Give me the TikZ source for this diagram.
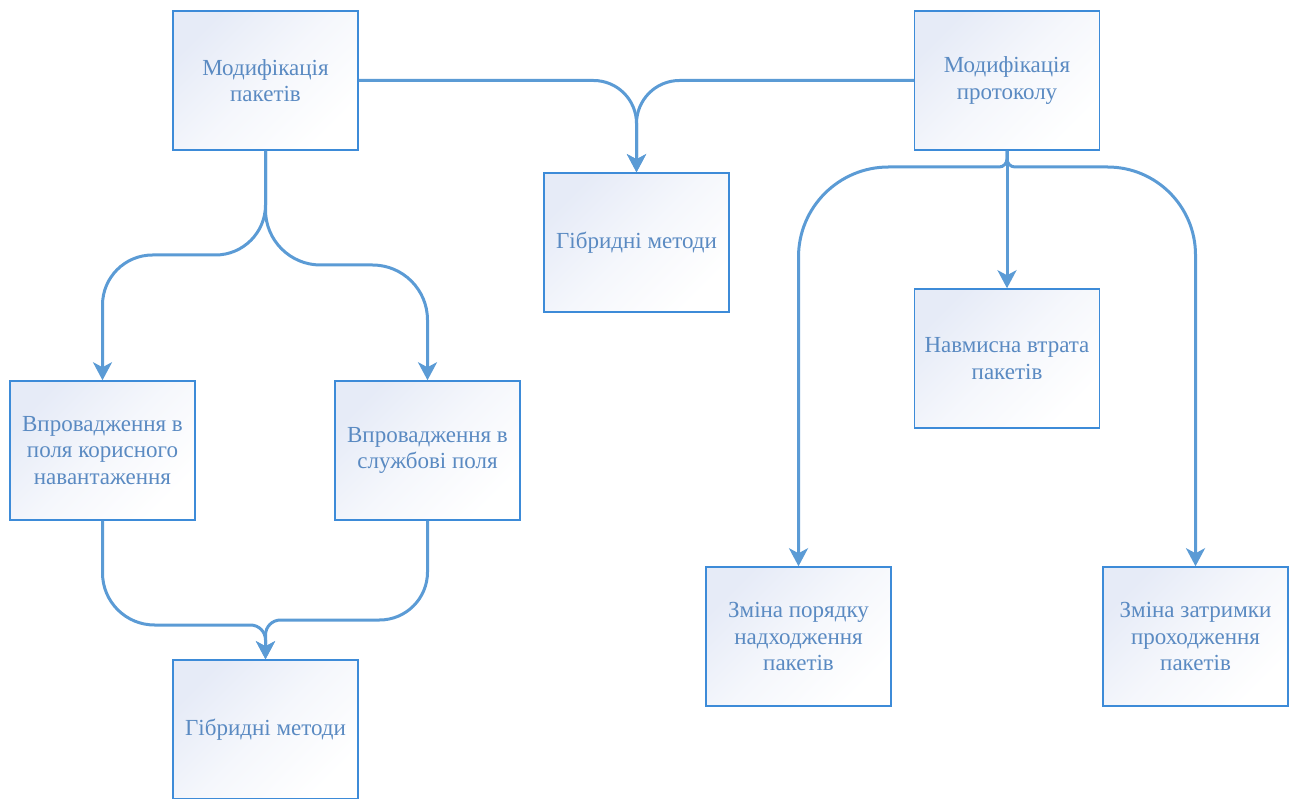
\documentclass[tikz,border=0pt]{standalone}
\usepackage{fontspec}
\setmainfont{Liberation Serif}
\usetikzlibrary{arrows.meta}
\definecolor{boxblue}{HTML}{3D8BD8}
\definecolor{linkblue}{HTML}{5B9BD5}
\definecolor{textblue}{HTML}{5A8AC2}
\definecolor{shadeblue}{HTML}{E6EBF7}

\begin{document}
\begin{tikzpicture}[x=1pt, y=1pt, >=Stealth,
    every node/.style={font=\rmfamily\fontsize{23}{26.5}\selectfont},
    box/.style={rectangle, draw=boxblue, line width=1.5pt, top color=shadeblue, bottom color=white, middle color=white!60!shadeblue, shading angle=45, minimum width=185pt, minimum height=139pt, align=center, text=textblue, inner sep=0pt},
    link/.style={linkblue, line width=3pt, -{Stealth[length=18pt,width=19pt,inset=5pt]}}]
        \useasboundingbox (0,0) rectangle (1289,798);
        \node[box] (mpak) at (265.5,717.5) {Модифікація\\пакетів};
        \node[box] (mprot) at (1007,717.5) {Модифікація\\протоколу};
        \node[box] (hyb1) at (636.5,555.5) {Гібридні методи};
        \node[box] (loss) at (1007,439.5) {Навмисна втрата\\пакетів};
        \node[box] (payl) at (102.5,347.5) {Впровадження в\\поля корисного\\навантаження};
        \node[box] (serv) at (427.5,347.5) {Впровадження в\\службові поля};
        \node[box] (hyb2) at (265.5,68.5) {Гібридні методи};
        \node[box] (order) at (798.5,161.5) {Зміна порядку\\надходження\\пакетів};
        \node[box] (delay) at (1195.5,161.5) {Зміна затримки\\проходження\\пакетів};
        \draw[link, rounded corners=50pt] (mpak.south) -- (265.5,543) -- (102.5,543) -- (payl.north);
        \draw[link, rounded corners=55pt] (mpak.south) -- (265.5,533) -- (427.5,533) -- (serv.north);
        \draw[link, rounded corners=43pt] (mpak.east) -- (636.5,717.5) -- (hyb1.north);
        \draw[link, rounded corners=43pt] (mprot.west) -- (636.5,717.5) -- (hyb1.north);
        \draw[link, rounded corners=52pt] (payl.south) -- (102.5,173) [rounded corners=15pt] -- (265.5,173) -- (hyb2.north);
        \draw[link, rounded corners=48pt] (serv.south) -- (427.5,178) [rounded corners=15pt] -- (265.5,178) -- (hyb2.north);
        \draw[link] (mprot.south) -- (loss.north);
        \draw[link, rounded corners=8pt] (mprot.south) -- (1007,631) [rounded corners=90pt] -- (798.5,631) -- (order.north);
        \draw[link, rounded corners=8pt] (mprot.south) -- (1007,631) [rounded corners=88pt] -- (1195.5,631) -- (delay.north);
      \end{tikzpicture}
\end{document}
